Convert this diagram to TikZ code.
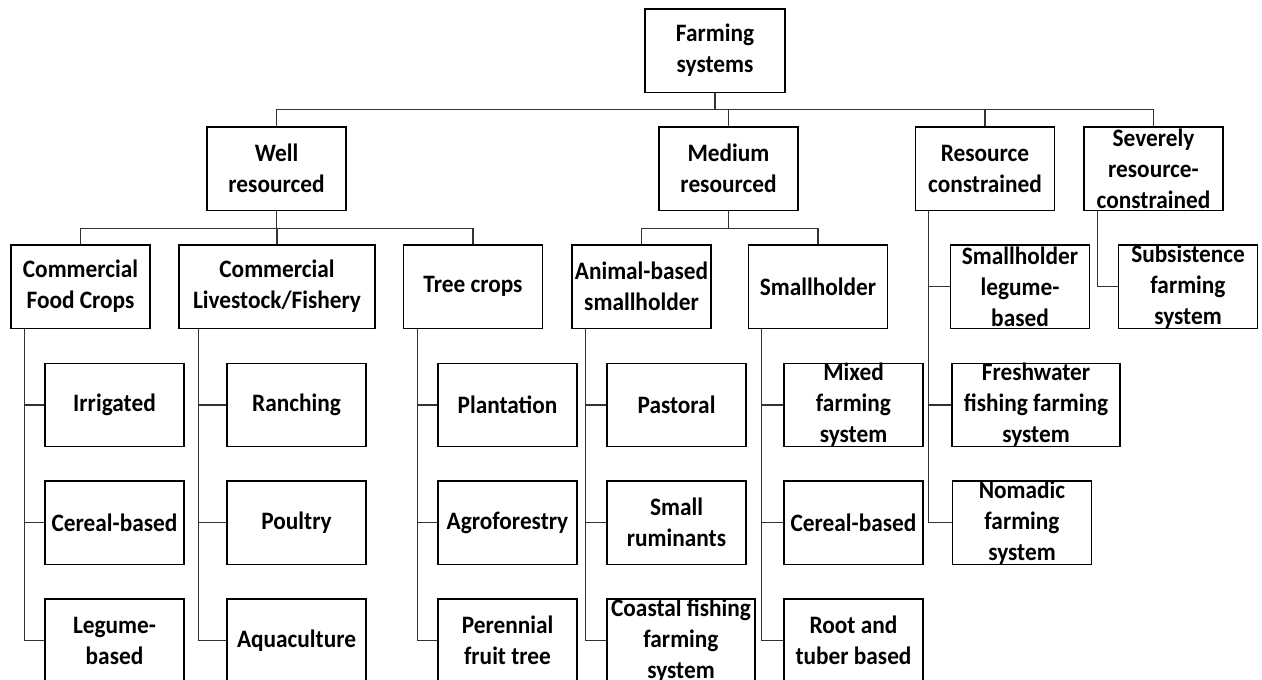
\documentclass[tikz,border=0pt]{standalone}
\usepackage{fontspec}
\setmainfont{Carlito}[FakeStretch=0.93]

\begin{document}
\begin{tikzpicture}[x=0.75pt,y=-0.75pt,
    box/.style={draw,line width=1.1pt,inner xsep=0pt,inner ysep=-12pt,minimum width=104.25pt,minimum height=62.6pt,align=center,font=\fontsize{18.8pt}{23.25pt}\selectfont\bfseries},
    link/.style={line width=1pt,draw=black!80}]
    \useasboundingbox (0,0) rectangle (1262,679);
    \clip (0,0) rectangle (1262,679);

    \node[box,minimum width=105pt] (fs) at (715,50.5) {Farming\\systems};

    \node[box] (well) at (276.5,168.5) {Well\\resourced};
    \node[box] (med) at (728.5,168.5) {Medium\\resourced};
    \node[box] (rc) at (985,168.5) {Resource\\constrained};
    \node[box] (sev) at (1153.5,168.5) {Severely\\resource-\\constrained};

    \node[box] (cfc) at (80.5,286.5) {Commercial\\Food Crops};
    \node[box,minimum width=147pt] (clf) at (277,286.5) {Commercial\\Livestock/Fishery};
    \node[box] (tree) at (473,286.5) {Tree crops};
    \node[box] (anim) at (641.5,286.5) {Animal-based\\smallholder};
    \node[box] (small) at (818,286.5) {Smallholder};
    \node[box] (slb) at (1020,286.5) {Smallholder\\legume-\\based};
    \node[box] (subs) at (1188,286.5) {Subsistence\\farming\\system};

    \node[box] (irr) at (114.5,405) {Irrigated};
    \node[box] (cer1) at (114.5,522.5) {Cereal-based};
    \node[box] (leg) at (114.5,640.5) {Legume-\\based};
    \node[box] (ranch) at (296.5,405) {Ranching};
    \node[box] (poul) at (296.5,522.5) {Poultry};
    \node[box] (aqua) at (296.5,640.5) {Aquaculture};
    \node[box] (plant) at (507.5,405) {Plantation};
    \node[box] (agro) at (507.5,522.5) {Agroforestry};
    \node[box] (peren) at (507.5,640.5) {Perennial\\fruit tree};
    \node[box] (past) at (676.5,405) {Pastoral};
    \node[box] (rumi) at (676.5,522.5) {Small\\ruminants};
    \node[box,minimum width=111pt] (coast) at (681,640.5) {Coastal fishing\\farming\\system};
    \node[box] (mixed) at (853.5,405) {Mixed\\farming\\system};
    \node[box] (cer2) at (853.5,522.5) {Cereal-based};
    \node[box] (roots) at (853.5,640.5) {Root and\\tuber based};
    \node[box,minimum width=126pt] (fresh) at (1036,405) {Freshwater\\fishing farming\\system};
    \node[box] (nomad) at (1022,522.5) {Nomadic\\farming\\system};

    \draw[link] (fs.south) -- ++(0,16.75) -| (well.north);
    \draw[link] (fs.south) -- ++(0,16.75) -| (med.north);
    \draw[link] (fs.south) -- ++(0,16.75) -| (rc.north);
    \draw[link] (fs.south) -- ++(0,16.75) -| (sev.north);

    \draw[link] (well.south) -- ++(0,17.75) -| (cfc.north);
    \draw[link] (well.south) -- ++(0,17.75) -| (clf.north);
    \draw[link] (well.south) -- ++(0,17.75) -| (tree.north);
    \draw[link] (med.south) -- ++(0,17.75) -| (anim.north);
    \draw[link] (med.south) -- ++(0,17.75) -| (small.north);

    \draw[link] ([xshift=10.5pt]cfc.south west) |- (irr.west);
    \draw[link] ([xshift=10.5pt]cfc.south west) |- (cer1.west);
    \draw[link] ([xshift=10.5pt]cfc.south west) |- (leg.west);
    \draw[link] ([xshift=15pt]clf.south west) |- (ranch.west);
    \draw[link] ([xshift=15pt]clf.south west) |- (poul.west);
    \draw[link] ([xshift=15pt]clf.south west) |- (aqua.west);
    \draw[link] ([xshift=11pt]tree.south west) |- (plant.west);
    \draw[link] ([xshift=11pt]tree.south west) |- (agro.west);
    \draw[link] ([xshift=11pt]tree.south west) |- (peren.west);
    \draw[link] ([xshift=10.5pt]anim.south west) |- (past.west);
    \draw[link] ([xshift=10.5pt]anim.south west) |- (rumi.west);
    \draw[link] ([xshift=10.5pt]anim.south west) |- (coast.west);
    \draw[link] ([xshift=10.5pt]small.south west) |- (mixed.west);
    \draw[link] ([xshift=10.5pt]small.south west) |- (cer2.west);
    \draw[link] ([xshift=10.5pt]small.south west) |- (roots.west);
    \draw[link] ([xshift=10.5pt]rc.south west) |- (slb.west);
    \draw[link] ([xshift=10.5pt]rc.south west) |- (fresh.west);
    \draw[link] ([xshift=10.5pt]rc.south west) |- (nomad.west);
    \draw[link] ([xshift=10.5pt]sev.south west) |- (subs.west);
\end{tikzpicture}
\end{document}
